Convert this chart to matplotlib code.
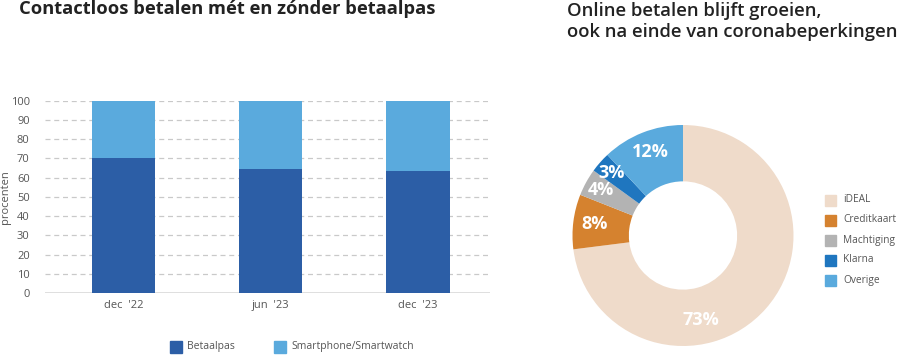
import numpy as np
import matplotlib
matplotlib.use("Agg")
import matplotlib.pyplot as plt
from matplotlib.patches import Rectangle

plt.rcParams['font.family'] = ['Open Sans', 'DejaVu Sans']

# left chart data (procenten)
periods = ["dec  '22", "jun  '23", "dec  '23"]
betaalpas = [70, 64.5, 63.5]
smartphone = [30, 35.5, 36.5]

# right chart data
methods = ['iDEAL', 'Creditkaart', 'Machtiging', 'Klarna', 'Overige']
shares = [73, 8, 4, 3, 12]

dark_blue = '#2c5ea6'
light_blue = '#5aaadd'
pie_colors = ['#efdbca', '#d5822f', '#b3b3b3', '#1f76bf', '#5aaadd']
text_grey = '#555555'

fig = plt.figure(figsize=(9, 3.58), dpi=100)
W, H = 900, 358

# ---- stacked bars ----
ax = fig.add_axes([45 / W, 1 - 293 / H, 445 / W, (293 - 100.7) / H])
x = np.arange(len(periods))
ax.bar(x, betaalpas, width=0.43, color=dark_blue, zorder=3)
ax.bar(x, smartphone, width=0.43, bottom=betaalpas, color=light_blue, zorder=3)
ax.set_xlim(-0.533, 2.489)
ax.set_ylim(0, 100)
ax.set_yticks(range(0, 101, 10))
ax.set_xticks(x)
ax.set_xticklabels(periods)
for s in ax.spines.values():
    s.set_visible(False)
ax.axhline(0, color='#d9d9d9', lw=1.2, zorder=2)
for yv in range(10, 101, 10):
    ax.axhline(yv, color='#c9c9c9', lw=0.9, ls=(0, (4, 3)), zorder=1)
ax.tick_params(length=0, labelsize=8, colors=text_grey, pad=10)
ax.tick_params(axis='y', pad=11)
ax.tick_params(axis='x', pad=5)
ax.set_ylabel('procenten', fontsize=8, color=text_grey)
ax.yaxis.set_label_coords(-0.0755, 0.5)

fig.text(19 / W, 1 - 9.5 / H, 'Contactloos betalen mét en zónder betaalpas',
         fontsize=13.2, fontweight='bold', color='#222222', va='center', ha='left')

# bottom legend
for xs, lab, col in [(170, 'Betaalpas', dark_blue), (274, 'Smartphone/Smartwatch', light_blue)]:
    fig.patches.append(Rectangle((xs / W, 1 - 353 / H), 12 / W, 12 / H,
                                 transform=fig.transFigure, color=col))
    fig.text((xs + 17) / W, 1 - 347 / H, lab, fontsize=7.5, color=text_grey,
             va='center', ha='left')

# ---- donut ----
R = 110.5
cx, cy = 683, 235.5
ax2 = fig.add_axes([(cx - R) / W, 1 - (cy + R) / H, 2 * R / W, 2 * R / H])
wedges, _ = ax2.pie(shares, colors=pie_colors, startangle=90, counterclock=False,
                    radius=1, wedgeprops=dict(width=0.51, linewidth=0))
ax2.set_xlim(-1, 1)
ax2.set_ylim(-1, 1)
ax2.set_aspect('equal')
ax2.axis('off')

label_r = [0.78, 0.81, 0.85, 0.86, 0.81]
label_frac = [0.64, 0.5, 0.5, 0.5, 0.5]
for w, val, r, f in zip(wedges, shares, label_r, label_frac):
    ang = np.deg2rad(w.theta2 - f * (w.theta2 - w.theta1))
    ax2.text(r * np.cos(ang), r * np.sin(ang), f'{val}%', color='white',
             fontsize=13, fontweight='bold', ha='center', va='center')

fig.text(567 / W, 1 - 2 / H, 'Online betalen blijft groeien,\nook na einde van coronabeperkingen',
         fontsize=13.3, fontweight='semibold', color='#222222', va='top', ha='left',
         linespacing=1.2)

# donut legend
for i, (lab, col) in enumerate(zip(methods, pie_colors)):
    yc = 200 + 20 * i
    fig.patches.append(Rectangle((825 / W, 1 - (yc + 5.5) / H), 11 / W, 11 / H,
                                 transform=fig.transFigure, color=col))
    fig.text(843 / W, 1 - yc / H, lab, fontsize=7.3, color=text_grey,
             va='center', ha='left')

fig.savefig('out.png', dpi=100)
